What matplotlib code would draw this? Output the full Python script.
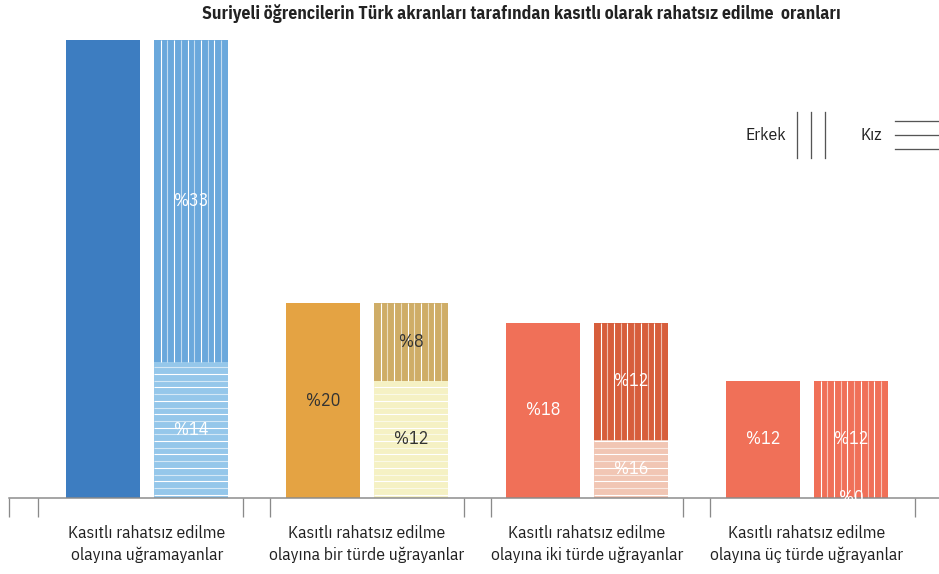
import matplotlib
matplotlib.use("Agg")
import matplotlib.pyplot as plt
from matplotlib.lines import Line2D

# ---- data -------------------------------------------------------------
categories = [
    "Kasıtlı rahatsız edilme\nolayına uğramayanlar",
    "Kasıtlı rahatsız edilme\nolayına bir türde uğrayanlar",
    "Kasıtlı rahatsız edilme\nolayına iki türde uğrayanlar",
    "Kasıtlı rahatsız edilme\nolayına üç türde uğrayanlar",
]
total_values = [47, 20, 18, 12]
total_labels = ["", "%20", "%18", "%12"]
erkek_values = [33, 8, 12, 12]
erkek_labels = ["%33", "%8", "%12", "%12"]
kiz_values = [14, 12, 6, 0]
kiz_labels = ["%14", "%12", "%16", "%0"]

# ---- styling ----------------------------------------------------------
total_colors = ["#3d7dc1", "#e4a343", "#f07058", "#f07058"]
erkek_colors = ["#6aa8dc", "#cfad67", "#d75e3c", "#f07058"]
kiz_colors = ["#95c7ea", "#f5f1c4", "#f1c6b4", "#f1c6b4"]
text_colors = ["white", "#333333", "white", "white"]

FONT = ["IBM Plex Sans Condensed", "DejaVu Sans"]
plt.rcParams["font.family"] = FONT

DPI = 100
W, H = 939, 574


def pt(px):
    return px * 72.0 / DPI


fig = plt.figure(figsize=(W / DPI, H / DPI), dpi=DPI)
fig.patch.set_facecolor("white")

base_px = 498
unit_px = 9.75
ymax = 50
left_px = 9
ax = fig.add_axes([left_px / W, (H - base_px) / H, (W - left_px) / W,
                   ymax * unit_px / H])

group_px = 220.0
center_px = 147.0
ax.set_xlim((left_px - center_px) / group_px, (W - center_px) / group_px)
ax.set_ylim(0, ymax)

bar_w = 74 / group_px
offset = 44 / group_px
xs = list(range(len(categories)))

solid = ax.bar([x - offset for x in xs], total_values, width=bar_w,
               color=total_colors, linewidth=0)
kiz = ax.bar([x + offset for x in xs], kiz_values, width=bar_w,
             color=kiz_colors, linewidth=0)
erk = ax.bar([x + offset for x in xs], erkek_values, width=bar_w,
             bottom=kiz_values, color=erkek_colors, linewidth=0)

# pattern fill: vertical stripes for Erkek, horizontal stripes for Kız
step_px = 6.7
hatch_lw = pt(1.1)
for p in erk.patches:
    x0, w = p.get_x(), p.get_width()
    y0, h = p.get_y(), p.get_height()
    if h <= 0:
        continue
    step = step_px / group_px
    xv = x0 + step
    k = 0
    while xv < x0 + w - step * 0.3:
        ax.vlines(xv, y0, y0 + h, colors="white",
                  alpha=1.0 if k % 2 == 0 else 0.6,
                  linewidth=hatch_lw, zorder=3)
        xv += step
        k += 1
for p in kiz.patches:
    x0, w = p.get_x(), p.get_width()
    y0, h = p.get_y(), p.get_height()
    if h <= 0:
        continue
    step = step_px / unit_px
    yv = y0 + step * 0.5
    k = 0
    while yv < y0 + h:
        ax.hlines(yv, x0, x0 + w, colors="white",
                  alpha=1.0 if k % 2 == 0 else 0.6,
                  linewidth=hatch_lw, zorder=3)
        yv += step
        k += 1

lab_size = pt(18)
for i, x in enumerate(xs):
    if total_labels[i]:
        ax.text(x - offset, total_values[i] / 2, total_labels[i],
                ha="center", va="center", color=text_colors[i],
                fontsize=lab_size, zorder=5)
    ax.text(x + offset, kiz_values[i] / 2, kiz_labels[i], ha="center",
            va="center", color=text_colors[i], fontsize=lab_size, zorder=5)
    ax.text(x + offset, kiz_values[i] + erkek_values[i] / 2,
            erkek_labels[i], ha="center", va="center",
            color=text_colors[i], fontsize=lab_size, zorder=5)

# axis: only the bottom spine with long downward ticks
for s in ["top", "right", "left"]:
    ax.spines[s].set_visible(False)
ax.spines["bottom"].set_color("#8a8a8a")
ax.spines["bottom"].set_linewidth(pt(1.5))
ax.spines["bottom"].set_zorder(4)
tick_px = [9, 38, 243, 270, 464, 491, 683, 710, 915]
ax.set_xticks([(p - center_px) / group_px for p in tick_px])
ax.set_xticklabels([])
ax.tick_params(axis="x", which="major", direction="out", length=pt(19),
               width=pt(1.3), color="#8a8a8a")
ax.set_xticks(xs, minor=True)
ax.set_xticklabels(categories, minor=True, fontsize=pt(17.5),
                   color="#222222", linespacing=1.4)
ax.tick_params(axis="x", which="minor", length=0, pad=pt(27))
ax.set_yticks([])

# title
fig.text(521 / W, 1 - 13 / H,
         "Suriyeli öğrencilerin Türk akranları tarafından kasıtlı olarak rahatsız edilme  oranları",
         ha="center", va="center", fontsize=pt(17.8), fontweight="bold",
         color="#222222")

# legend drawn as text plus line glyphs
leg_col = "#555555"
fig.text(786 / W, 1 - 135 / H, "Erkek", ha="right", va="center",
         fontsize=pt(17.5), color="#222222")
for xp in [797, 811, 825]:
    fig.add_artist(Line2D([xp / W, xp / W], [1 - 112 / H, 1 - 158 / H],
                          color=leg_col, linewidth=pt(1.3)))
fig.text(882 / W, 1 - 135 / H, "Kız", ha="right", va="center",
         fontsize=pt(17.5), color="#222222")
for yp in [121, 135, 149]:
    fig.add_artist(Line2D([895 / W, 939 / W], [1 - yp / H, 1 - yp / H],
                          color=leg_col, linewidth=pt(1.3)))

fig.savefig("out.png", dpi=DPI, facecolor="white")
